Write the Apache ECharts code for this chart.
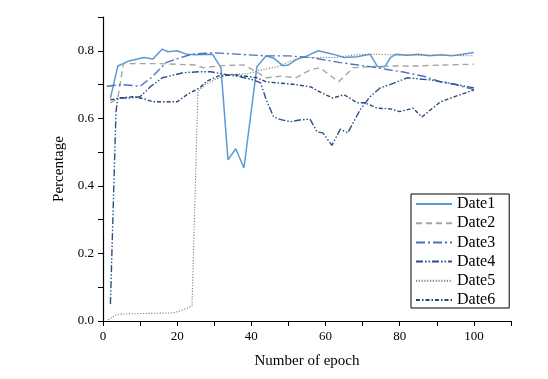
<!DOCTYPE html>
<html>
<head>
<meta charset="utf-8">
<script src="https://cdn.jsdelivr.net/npm/echarts@6/dist/echarts.min.js"></script>
<style>html,body{margin:0;padding:0;background:#fff}#c{width:548px;height:379px}</style>
</head>
<body>
<div id="c"></div>
<script>
// ---- data ----
const seriesNames = ['Date1', 'Date2', 'Date3', 'Date4', 'Date5', 'Date6'];
const xTickLabels = [0, 20, 40, 60, 80, 100];
const yTickLabels = ['0.0', '0.2', '0.4', '0.6', '0.8'];

const epochs1 = [2, 4, 7, 11, 13.5, 16, 17.5, 20, 22.5, 25, 29.5, 31.8, 33.7, 35.8, 38, 41.5, 44, 46, 48.5, 50, 52, 55, 58, 62, 65, 68.5, 72, 74, 76, 77.5, 79, 82, 85, 88, 91, 94, 97, 100];
const values1 = [0.66, 0.755, 0.77, 0.78, 0.776, 0.805, 0.797, 0.80, 0.79, 0.788, 0.79, 0.75, 0.477, 0.51, 0.453, 0.753, 0.785, 0.778, 0.756, 0.758, 0.773, 0.785, 0.80, 0.79, 0.78, 0.782, 0.79, 0.753, 0.753, 0.78, 0.79, 0.787, 0.79, 0.785, 0.788, 0.785, 0.79, 0.795];

const epochs2 = [2, 4, 5.5, 10, 15, 20, 25, 27, 32, 38, 41.5, 44, 48, 52, 56, 58.5, 63.5, 67.5, 72, 77, 85, 92, 100];
const values2 = [0.646, 0.66, 0.762, 0.762, 0.762, 0.76, 0.758, 0.75, 0.756, 0.758, 0.737, 0.72, 0.725, 0.72, 0.744, 0.75, 0.708, 0.75, 0.753, 0.755, 0.755, 0.758, 0.76];

const epochs3 = [1, 5, 10, 13, 17, 21, 24, 30, 36, 44, 50, 56, 64, 72, 77, 81, 87, 91, 95, 100];
const values3 = [0.695, 0.70, 0.695, 0.72, 0.765, 0.78, 0.79, 0.794, 0.79, 0.785, 0.785, 0.78, 0.765, 0.753, 0.744, 0.737, 0.723, 0.708, 0.70, 0.685];

const epochs4 = [2, 3.5, 4, 7, 10, 12.7, 16, 21.6, 26, 29, 33.5, 37, 40.5, 42.5, 44, 46, 48, 50.5, 53, 55.8, 57.7, 59.3, 61.7, 64, 66, 69.3, 72, 74.7, 77.4, 82, 88, 93, 100];
const values4 = [0.05, 0.62, 0.66, 0.66, 0.664, 0.693, 0.72, 0.735, 0.738, 0.738, 0.729, 0.723, 0.714, 0.705, 0.655, 0.604, 0.596, 0.59, 0.595, 0.598, 0.56, 0.557, 0.52, 0.568, 0.557, 0.625, 0.664, 0.69, 0.70, 0.72, 0.714, 0.705, 0.69];

const epochs5 = [1.4, 3.7, 10, 19, 21.6, 24, 25.3, 25.6, 27.5, 30, 33.7, 39, 43, 47, 50, 53, 62, 68.5, 73, 80, 90, 100];
const values5 = [0.003, 0.02, 0.022, 0.024, 0.033, 0.045, 0.56, 0.68, 0.70, 0.714, 0.729, 0.732, 0.744, 0.753, 0.767, 0.78, 0.78, 0.788, 0.79, 0.787, 0.787, 0.785];

const epochs6 = [2, 4.6, 8, 11, 13.5, 20, 22.6, 26, 28, 31, 35, 41.5, 44, 47, 52, 56, 59, 62, 65, 68.5, 70.6, 74, 77.4, 80, 83.6, 86, 91, 95, 100];
const values6 = [0.655, 0.66, 0.664, 0.658, 0.649, 0.649, 0.67, 0.69, 0.71, 0.725, 0.73, 0.72, 0.708, 0.705, 0.70, 0.693, 0.675, 0.66, 0.67, 0.646, 0.646, 0.63, 0.628, 0.62, 0.63, 0.604, 0.649, 0.665, 0.684];

// ---- styles ----
const allEpochs = [epochs1, epochs2, epochs3, epochs4, epochs5, epochs6];
const allValues = [values1, values2, values3, values4, values5, values6];
const colors = ['#5b9bd5', '#a5a5a5', '#4472c4', '#2b4f8f', '#7f7f7f', '#264478'];
const dashes = ['solid', [6, 4], [9, 3, 2, 3], [7, 2, 1.5, 2, 1.5, 2], [1.2, 1.6], [4, 2, 1.5, 2]];
const widths = [1.5, 1.4, 1.4, 1.4, 1.1, 1.4];

const serif = 'Liberation Serif, Times New Roman, serif';

const series = seriesNames.map((n, i) => ({
  name: n,
  type: 'line',
  symbol: 'none',
  data: allEpochs[i].map((e, j) => [e, allValues[i][j]]),
  lineStyle: { color: colors[i], width: widths[i], type: dashes[i] },
  itemStyle: { color: colors[i] },
  animation: false
}));

const chart = echarts.init(document.getElementById('c'));
chart.setOption({
  animation: false,
  backgroundColor: '#fff',
  grid: { left: 103, top: 17, right: 37, bottom: 58 },
  xAxis: {
    type: 'value', min: 0, max: 110, interval: 10,
    name: 'Number of epoch', nameLocation: 'middle', nameGap: 33,
    nameTextStyle: { fontFamily: serif, fontSize: 15, color: '#000' },
    axisLine: { lineStyle: { color: '#000', width: 1.2 } },
    axisTick: { inside: false, length: 5, lineStyle: { color: '#000' } },
    axisLabel: {
      margin: 9, fontFamily: serif, fontSize: 13, color: '#000',
      formatter: v => xTickLabels.includes(v) ? String(v) : ''
    },
    splitLine: { show: false }
  },
  yAxis: {
    type: 'value', min: 0, max: 0.9, interval: 0.1,
    name: 'Percentage', nameLocation: 'middle', nameGap: 36, nameRotate: 90,
    nameTextStyle: { fontFamily: serif, fontSize: 15, color: '#000' },
    axisLine: { show: true, lineStyle: { color: '#000', width: 1.2 } },
    axisTick: { show: true, inside: false, length: 5, lineStyle: { color: '#000' } },
    axisLabel: {
      margin: 9, fontFamily: serif, fontSize: 13, color: '#000',
      formatter: v => { const s = v.toFixed(1); return yTickLabels.includes(s) ? s : ''; }
    },
    splitLine: { show: false }
  },
  legend: {
    orient: 'vertical', left: 411, top: 194,
    padding: [2, 14, 0, 4],
    itemWidth: 36, itemHeight: 16, itemGap: 3.2,
    borderColor: '#000', borderWidth: 1, borderRadius: 0,
    itemStyle: { color: 'rgba(0,0,0,0)', borderWidth: 0, opacity: 0 },
    textStyle: { fontFamily: serif, fontSize: 16, color: '#000' },
    data: seriesNames
  },
  series: series
});
</script>
</body>
</html>
